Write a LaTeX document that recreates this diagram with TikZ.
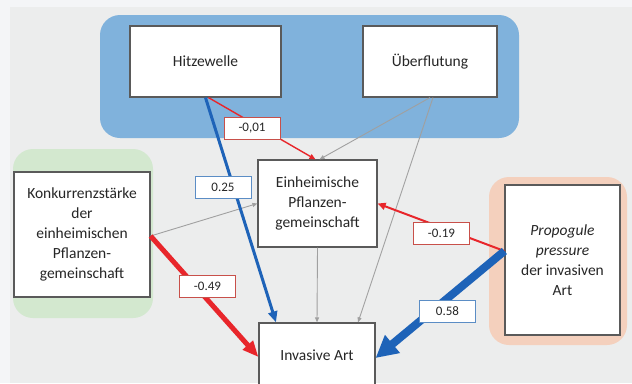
\documentclass[tikz,border=0pt]{standalone}
\usepackage{fontspec}
\setmainfont{Carlito}
\usetikzlibrary{arrows.meta}
\definecolor{outerbg}{HTML}{F4F5F7}
\definecolor{panelgray}{HTML}{ECEDED}
\definecolor{climblue}{HTML}{80B2DC}
\definecolor{nativegreen}{HTML}{D3E8CF}
\definecolor{invorange}{HTML}{F4D0BD}
\definecolor{boxstroke}{HTML}{5A5A5A}
\definecolor{textgray}{HTML}{262626}
\definecolor{negred}{HTML}{E8262B}
\definecolor{posblue}{HTML}{1E63B8}
\definecolor{linkgray}{HTML}{A0A0A0}
\definecolor{negstroke}{HTML}{C8504A}
\definecolor{posstroke}{HTML}{5B8DC5}

\begin{document}
\begin{tikzpicture}[
    x=1pt, y=-1pt,
    group/.style={
        rounded corners=20pt, fill=#1
    },
    box/.style={
        draw=boxstroke, fill=white, line width=1.2pt, inner sep=0pt,
        font=\fontsize{15.5}{20}\selectfont, text=textgray, align=center
    },
    coef/.style={
        draw=#1, fill=white, line width=0.8pt, inner sep=0pt,
        minimum width=56pt, minimum height=22pt,
        font=\fontsize{13}{15}\selectfont, text=textgray
    },
    arr/.style={
        -{Triangle[length=6pt, width=5pt]}, line width=1.4pt, color=#1
    },
    garr/.style={
        -{Triangle[length=5pt, width=4pt]}, line width=0.9pt, color=linkgray
    }
]

\useasboundingbox (0,0) rectangle (632,383);
\clip (0,0) rectangle (632,383);
\fill[outerbg] (0,0) rectangle (632,383);
\fill[panelgray] (10,7) rectangle (632,383);

% Groups
\fill[group=climblue] (100,15) rectangle (519,138);
\fill[group=nativegreen] (13,149) rectangle (153,318);
\fill[group=invorange] (489,177) rectangle (627,345);

% Boxes
\node[box, minimum width=151pt, minimum height=71pt] (hitze) at (205.5,61.5) {Hitzewelle};
\node[box, minimum width=134pt, minimum height=71pt] (flut) at (430,61.5) {Überflutung};
\node[box, minimum width=136pt, minimum height=125pt] (konk) at (82,234.5)
    {Konkurrenzstärke\\der\\einheimischen\\Pflanzen-\\gemeinschaft};
\node[box, minimum width=119pt, minimum height=87pt] (einh) at (317.5,203.5)
    {Einheimische\\Pflanzen-\\gemeinschaft};
\node[box, minimum width=115pt, minimum height=150pt] (prop) at (562.5,260)
    {\textit{Propogule}\\\textit{pressure}\\der invasiven\\Art};
\node[box, minimum width=116pt, minimum height=64pt] (inv) at (317,355) {Invasive Art};

% Grey paths
\draw[garr] (flut.south) -- ([xshift=2pt]einh.north);
\draw[garr] ([xshift=3pt]flut.south) -- ([xshift=41pt]inv.north);
\draw[garr] (einh.south) -- (inv.north);
\draw[garr] ([yshift=-1.5pt]konk.east) -- (einh.west);

% Coloured paths
\draw[arr=negred] ([xshift=3pt]hitze.south) -- ([xshift=-2pt]einh.north);
\draw[arr=posblue, line width=3pt, -{Triangle[length=11pt, width=9pt]}]
    (hitze.south) -- ([xshift=-41pt]inv.north);
\draw[arr=negred, line width=5pt, -{Triangle[length=16pt, width=13pt]}]
    ([yshift=-1.5pt]konk.east) -- ([yshift=-2pt]inv.west);
\draw[arr=negred, line width=2pt, -{Triangle[length=8pt, width=7pt]}]
    ([yshift=9pt]prop.west) -- (einh.east);
\draw[arr=posblue, line width=8pt, -{Triangle[length=22pt, width=22pt]}]
    ([yshift=9pt]prop.west) -- ([yshift=-3pt]inv.east);

% Coefficients
\node[coef=negstroke] (c1) at (252,128) {-0,01};
\node[coef=posstroke] (c2) at (223,187) {0.25};
\node[coef=negstroke] (c3) at (207.5,286.5) {-0.49};
\node[coef=negstroke] (c4) at (441.5,233.5) {-0.19};
\node[coef=posstroke] (c5) at (447.5,311.5) {0.58};

\end{tikzpicture}
\end{document}
